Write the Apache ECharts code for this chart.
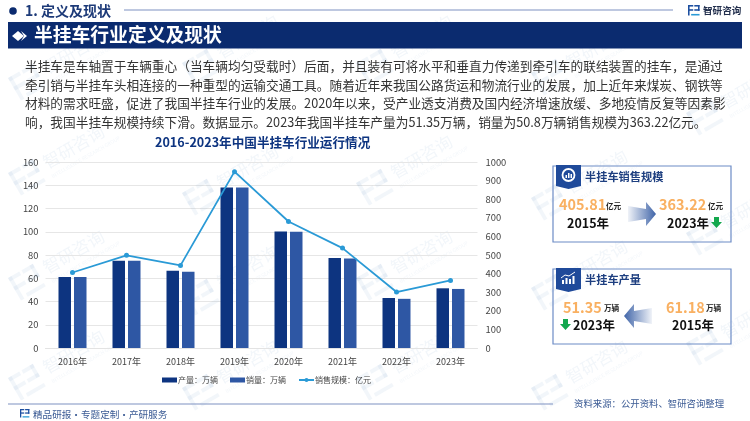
<!DOCTYPE html>
<html>
<head>
<meta charset="utf-8">
<style>
  html, body { margin: 0; padding: 0; background: #fff; }
  #chart { width: 750px; height: 421px; }
</style>
<script src="https://cdn.jsdelivr.net/npm/echarts@6/dist/echarts.min.js"></script>
</head>
<body>
<div id="chart"></div>
<script>
const FONT = '"Noto Sans CJK SC", "Noto Sans", sans-serif'

// chart data
const years = ['2016年', '2017年', '2018年', '2019年', '2020年', '2021年', '2022年', '2023年']
const production = [61, 75, 66.5, 138, 100.3, 77.4, 43, 51.35]
const sales = [61, 75, 65.6, 138, 100, 77, 42.3, 50.8]
const salesValue = [406, 498, 444, 948, 680, 537, 301, 363.22]

const leftTicks = [0, 20, 40, 60, 80, 100, 120, 140, 160]
const rightTicks = [0, 100, 200, 300, 400, 500, 600, 700, 800, 900, 1000]

const bodyLines = [
  '半挂车是车轴置于车辆重心\uff08当车辆均匀受载时\uff09后面\uff0c并且装有可将水平和垂直力传递到牵引车的联结装置的挂车\uff0c是通过',
  '牵引销与半挂车头相连接的一种重型的运输交通工具。随着近年来我国公路货运和物流行业的发展\uff0c加上近年来煤炭、钢铁等',
  '材料的需求旺盛\uff0c促进了我国半挂车行业的发展。2020年以来\uff0c受产业透支消费及国内经济增速放缓、多地疫情反复等因素影',
  '响\uff0c我国半挂车规模持续下滑。数据显示。2023年我国半挂车产量为51.35万辆\uff0c销量为50.8万辆销售规模为363.22亿元。',
]

const NAVY = '#0b2b6f'
const BAR1 = '#0d3480'
const BAR2 = '#2e57a4'
const LINE = '#2a9ad6'
const ORANGE = '#f9b061'
const GREEN = '#13a84e'
const RULE = '#7e92c2'

const chart = echarts.init(document.getElementById('chart'), undefined, { renderer: 'canvas' })

function txt(x, y, text, size, color, weight, align) {
  return {
    type: 'text', x, y, z: 10,
    style: {
      text, fill: color, fontSize: size, fontFamily: FONT,
      fontWeight: weight || 'normal', align: align || 'left', verticalAlign: 'middle',
    },
  }
}

function poly(points, fill, z) {
  return { type: 'polygon', z: z || 10, shape: { points }, style: { fill } }
}

function rect(x, y, w, h, fill, z) {
  return { type: 'rect', z: z || 5, shape: { x, y, width: w, height: h }, style: { fill } }
}

// little bracket logo used in the header, footer and watermark
function logo(x, y, s, c1, c2) {
  return {
    type: 'group', x, y, z: 1,
    children: [
      rect(0, 0, 5 * s, 1.5 * s, c1, 1),
      rect(0, 0, 1.5 * s, 10 * s, c1, 1),
      rect(0, 4 * s, 5 * s, 1.5 * s, c1, 1),
      rect(6 * s, 0, 5 * s, 1.5 * s, c1, 1),
      rect(9.5 * s, 0, 1.5 * s, 5.5 * s, c1, 1),
      rect(6 * s, 4 * s, 5 * s, 1.5 * s, c1, 1),
      rect(3 * s, 8.5 * s, 8 * s, 1.5 * s, c2, 1),
    ],
  }
}

function watermark(x, y) {
  const c = 'rgba(95,135,195,0.08)'
  return {
    type: 'group', x, y, rotation: Math.PI / 6, z: 0, silent: true,
    children: [
      { ...logo(0, -8, 2.6, c, c) },
      {
        type: 'text', x: 36, y: 2, z: 0,
        style: { text: '智研咨询', fill: c, fontSize: 17, fontFamily: FONT, verticalAlign: 'middle', letterSpacing: 2 },
      },
      {
        type: 'text', x: 36, y: 17, z: 0,
        style: { text: 'INTELLIGENCE RESEARCH GROUP', fill: c, fontSize: 5, fontFamily: FONT, verticalAlign: 'middle' },
      },
    ],
  }
}

function fatArrow(x0, x1, cy, dir) {
  // dir 1 points right, -1 points left
  const tip = dir > 0 ? x1 : x0
  const tail = dir > 0 ? x0 : x1
  const neck = tip - dir * 10
  const stops = dir > 0
    ? [{ offset: 0, color: 'rgba(63,100,168,0.08)' }, { offset: 1, color: '#3f64a8' }]
    : [{ offset: 0, color: '#3f64a8' }, { offset: 1, color: 'rgba(63,100,168,0.08)' }]
  return {
    type: 'polygon', z: 8,
    shape: {
      points: [[tail, cy - 8], [neck, cy - 5], [neck, cy - 12], [tip, cy], [neck, cy + 12], [neck, cy + 5], [tail, cy + 8]],
    },
    style: { fill: new echarts.graphic.LinearGradient(0, 0, 1, 0, stops) },
  }
}

function downArrow(x, y) {
  return poly([[x + 3, y - 6], [x + 8, y - 6], [x + 8, y - 1], [x + 11, y - 1], [x + 5.5, y + 5], [x, y - 1], [x + 3, y - 1]], GREEN)
}

function card(y, h, title, ring) {
  const icon = ring
    ? [{ type: 'circle', z: 6, shape: { cx: 568.5, cy: y + 9, r: 6 }, style: { fill: 'none', stroke: '#fff', lineWidth: 1.8 } },
       rect(565.5, y + 9, 1.5, 3, '#fff', 6), rect(568, y + 7, 1.5, 5, '#fff', 6), rect(570.5, y + 8, 1.5, 4, '#fff', 6)]
    : [rect(562, y + 11, 2, 4, '#fff', 6), rect(565.5, y + 9, 2, 6, '#fff', 6), rect(569, y + 10, 2, 5, '#fff', 6), rect(572.5, y + 7, 2, 8, '#fff', 6),
       { type: 'polyline', z: 6, shape: { points: [[561, y + 9], [565, y + 6], [569, y + 7], [575, y + 3]] }, style: { fill: 'none', stroke: '#fff', lineWidth: 1 } }]
  return [
    {
      type: 'rect', z: 3,
      shape: { x: 553, y, width: 178, height: h },
      style: { fill: 'rgba(255,255,255,0)', stroke: '#6d8cc6', lineWidth: 1.2 },
    },
    poly([[556, y - 1], [581, y - 1], [581, y + 20], [568.5, y + 23], [556, y + 20]], '#1f4a9a', 5),
    ...icon,
    txt(585, y + 11, title, 11.2, '#1e3f80', 'bold'),
  ]
}

const watermarkSpots = [
  [12, 180], [186, 200], [360, 190], [535, 205], [12, 285], [186, 300], [360, 285], [535, 295],
  [12, 385], [186, 395], [360, 385], [535, 395], [12, 85], [186, 70], [360, 70], [535, 80], [690, 120], [690, 240], [690, 350],
]

const graphic = [
  ...watermarkSpots.map(p => watermark(p[0], p[1])),

  // header
  { type: 'circle', z: 5, shape: { cx: 13, cy: 11, r: 3.8 }, style: { fill: NAVY } },
  txt(25, 11, '1. 定义及现状', 14, '#1d3a78', 'bold'),
  rect(124, 9.5, 549, 1, RULE),
  logo(688, 5, 1.05, '#1d4fa0', '#2a9ad6'),
  txt(703, 10, '智研咨询', 9.6, '#222f4d', 'bold'),

  // banner
  rect(8, 22, 734, 26.5, NAVY),
  poly([[12, 36], [18, 31], [24, 36], [18, 41]], '#fff', 6),
  poly([[21, 31], [27, 36], [21, 41], [24, 36]], '#fff', 6),
  txt(34, 35, '半挂车行业定义及现状', 18.8, '#fff', 'bold'),

  // body paragraph
  ...bodyLines.map((line, i) => txt(25, 66 + i * 18.7, line, 12.7, '#333', 'normal')),

  // sales card
  ...card(166, 76, '半挂车销售规模', true),
  txt(559, 205, '405.81', 14.4, ORANGE, 'bold'),
  txt(606, 206, '亿元', 7.6, '#222', 'bold'),
  txt(567, 223, '2015年', 12.5, '#111', 'bold'),
  fatArrow(628, 656, 214, 1),
  txt(659, 205, '363.22', 14.4, ORANGE, 'bold'),
  txt(708, 206, '亿元', 7.6, '#222', 'bold'),
  txt(667, 223, '2023年', 12.5, '#111', 'bold'),
  downArrow(711, 223),

  // production card
  ...card(269, 75, '半挂车产量', false),
  txt(563, 308, '51.35', 14.4, ORANGE, 'bold'),
  txt(604, 308, '万辆', 7.6, '#222', 'bold'),
  txt(573, 325, '2023年', 12.5, '#111', 'bold'),
  downArrow(560, 325),
  fatArrow(624, 652, 316, -1),
  txt(666, 308, '61.18', 14.4, ORANGE, 'bold'),
  txt(706, 308, '万辆', 7.6, '#222', 'bold'),
  txt(672, 325, '2015年', 12.5, '#111', 'bold'),

  // footer
  rect(8, 403.5, 545, 1, RULE),
  logo(20, 409, 0.85, '#1d4fa0', '#2a9ad6'),
  txt(33, 414, '精品研报\u00b7专题定制\u00b7产研服务', 9.6, '#3a5a94'),
  txt(574, 403, '资料来源\uff1a公开资料、智研咨询整理', 9.4, '#3a5a94'),
]

chart.setOption({
  backgroundColor: '#fff',
  animation: false,
  title: {
    text: '2016-2023年中国半挂车行业运行情况',
    left: 150,
    top: 131,
    textStyle: { color: '#0d3480', fontSize: 12.6, fontWeight: 'bold', fontFamily: FONT },
  },
  legend: {
    left: 157,
    top: 371,
    itemGap: 12,
    itemWidth: 15,
    itemHeight: 5,
    textStyle: { color: '#444', fontSize: 8, fontFamily: FONT, padding: [0, 0, 0, -4] },
    data: [
      { name: '产量\uff1a万辆', icon: 'rect' },
      { name: '销量\uff1a万辆', icon: 'rect' },
      { name: '销售规模\uff1a亿元' },
    ],
  },
  grid: { left: 45.5, right: 272.5, top: 162, bottom: 73 },
  xAxis: {
    type: 'category',
    data: years,
    axisTick: { show: false },
    axisLine: { lineStyle: { color: '#e3e3e3', width: 1 } },
    axisLabel: { color: '#444', fontSize: 9, fontFamily: FONT, margin: 9 },
  },
  yAxis: [
    {
      type: 'value',
      min: leftTicks[0],
      max: leftTicks[leftTicks.length - 1],
      interval: 20,
      axisLine: { show: false },
      axisTick: { show: false },
      axisLabel: { color: '#444', fontSize: 9.4, fontFamily: FONT, margin: 7 },
      splitLine: { lineStyle: { color: '#e6e6e6', width: 1 } },
    },
    {
      type: 'value',
      min: rightTicks[0],
      max: rightTicks[rightTicks.length - 1],
      interval: 100,
      axisLine: { show: false },
      axisTick: { show: false },
      axisLabel: { color: '#444', fontSize: 9.4, fontFamily: FONT, margin: 8, formatter: v => String(v) },
      splitLine: { show: false },
    },
  ],
  series: [
    {
      name: '产量\uff1a万辆', type: 'bar', data: production,
      barWidth: 12.5, barGap: '24%', z: 3,
      itemStyle: { color: BAR1 },
    },
    {
      name: '销量\uff1a万辆', type: 'bar', data: sales,
      barWidth: 12.5, z: 3,
      itemStyle: { color: BAR2 },
    },
    {
      name: '销售规模\uff1a亿元', type: 'line', yAxisIndex: 1, data: salesValue,
      symbol: 'circle', symbolSize: 5, z: 4,
      lineStyle: { color: LINE, width: 1.8 },
      itemStyle: { color: LINE },
    },
  ],
  graphic: { elements: graphic },
})
</script>
</body>
</html>
